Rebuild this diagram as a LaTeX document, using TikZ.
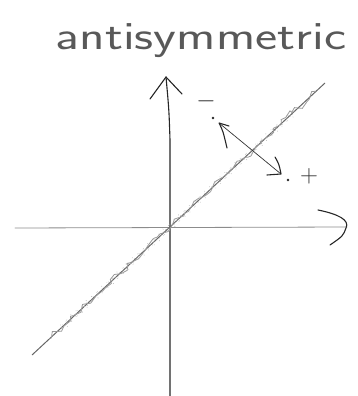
\documentclass[tikz,border=0pt]{standalone}
\usetikzlibrary{decorations.pathmorphing,calc}
\begin{document}
\begin{tikzpicture}[x=1pt,y=-1pt,
  ink/.style={line width=1.1pt,black!85,line cap=round,line join=round},
  faint/.style={line width=0.8pt,black!45,line cap=round},
  lbl/.style={inner sep=0pt,text=black!80}]
\useasboundingbox (0,0) rectangle (358,396);
% title
\node[lbl,font=\sffamily\fontsize{40}{40}\selectfont,text=black!65,anchor=base,xscale=1.32] (title) at (201,49) {antisymmetric};
% vertical axis
\coordinate (vb) at (170,396);
\coordinate (vt) at (166,77);
\coordinate (vl) at (150,99);
\coordinate (vr) at (182,94);
\draw[ink] (vb) -- (170,140) .. controls (169,110) .. (vt);
\draw[ink] (vl) -- (vt) -- (vr);
% horizontal axis
\coordinate (hl) at (15,228);
\coordinate (hr) at (347,227);
\draw[faint] (hl) -- (hr);
\draw[ink] (318,210) .. controls (338,214) and (350,220) .. (346,228) .. controls (343,236) .. (330,245);
% diagonal
\coordinate (dl) at (32,355);
\coordinate (dr) at (325,83);
\draw[line width=1pt,black!60] (dl) -- (dr);
\draw[line width=0.8pt,black!40,decorate,decoration={random steps,segment length=5pt,amplitude=3.5pt}] ($(dl)!0.06!(dr)$) -- ($(dl)!0.97!(dr)$);
\draw[line width=0.6pt,black!30,dotted,decorate,decoration={zigzag,segment length=7pt,amplitude=3pt}] ($(dl)!0.1!(dr)$) -- ($(dl)!0.9!(dr)$);
% double arrow
\coordinate (aa) at (219,123);
\coordinate (ab) at (281,174);
\draw[line width=0.7pt,black!80] (aa) -- (ab);
\draw[ink] (229,126) -- (aa) .. controls (223,131) .. (227,148);
\draw[ink] (275,157) .. controls (279,164) .. (ab) -- (267,175);
% labels
\node[lbl,font=\fontsize{26}{26}\selectfont] (minus) at (206,101) {$-$};
\node[lbl,font=\fontsize{26}{26}\selectfont] (plus) at (309,176) {$+$};
\fill[black!85] (213,118) circle (1.4pt);
\fill[black!85] (288,180) circle (1.4pt);
\end{tikzpicture}
\end{document}
